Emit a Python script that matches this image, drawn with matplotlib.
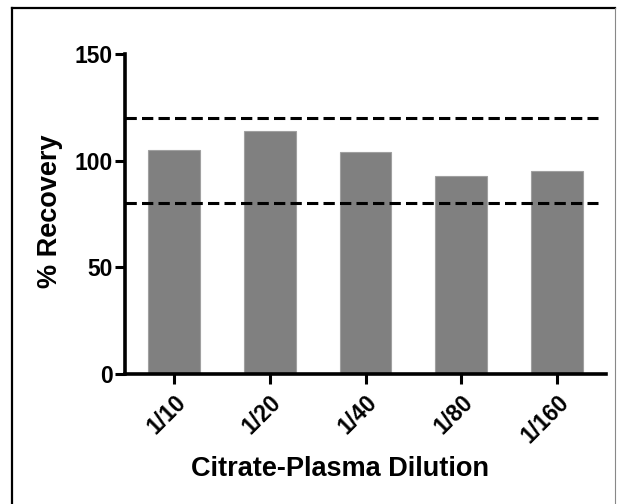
import numpy as np
import matplotlib.pyplot as plt
from matplotlib.lines import Line2D
from matplotlib.transforms import ScaledTranslation

# data
dilutions = ["1/10", "1/20", "1/40", "1/80", "1/160"]
recovery = [105, 114, 104, 93, 95]
limits = [80, 120]

plt.rcParams['font.family'] = ['Liberation Sans', 'DejaVu Sans']
plt.rcParams['font.weight'] = 'bold'

fig = plt.figure(figsize=(6.21, 5.04), dpi=100)
ax = fig.add_axes([125 / 621, 1 - 374 / 504, 481 / 621, 320 / 504])

x = np.arange(len(dilutions))
ax.bar(x, recovery, width=0.54, color='#808080', edgecolor='#a0a0a0', linewidth=0.8)

# acceptance limits
for lim in limits:
    ax.hlines(lim, -0.51, 4.43, colors='black', linewidth=2.2,
              linestyles=(0, (3.7, 1.7)))

ax.set_xlim(-0.51, 4.51)
ax.set_ylim(0, 150)
ax.set_yticks([0, 50, 100, 150])
ax.set_xticks(x)
ax.set_xticklabels(dilutions, rotation=45, ha='right', rotation_mode='anchor')

# nudge the rotated labels a little to the left
shift = ScaledTranslation(-5 / 100, 0, fig.dpi_scale_trans)
for lbl in ax.get_xticklabels():
    lbl.set_transform(lbl.get_transform() + shift)

for side in ['top', 'right']:
    ax.spines[side].set_visible(False)
for side in ['left', 'bottom']:
    ax.spines[side].set_linewidth(2.6)
ax.tick_params(direction='out', length=7, width=2.2, labelsize=16.5, pad=2)
ax.tick_params(axis='x', pad=5)

ax.set_xlabel("Citrate-Plasma Dilution", fontsize=19.5, fontweight='bold')
ax.set_ylabel("% Recovery", fontsize=19.5, fontweight='bold')
ax.xaxis.set_label_coords(0.447, -0.256)
ax.yaxis.set_label_coords(-0.129, 0.509)

# frame around the figure
fig.add_artist(Line2D([12 / 621, 12 / 621], [0, 1 - 8 / 504], color='black', linewidth=1.6))
fig.add_artist(Line2D([12 / 621, 615 / 621], [1 - 8 / 504, 1 - 8 / 504], color='black', linewidth=1.6))
fig.add_artist(Line2D([615 / 621, 615 / 621], [0, 1 - 8 / 504], color='#888888', linewidth=0.8))

fig.savefig('out.png', dpi=100)
